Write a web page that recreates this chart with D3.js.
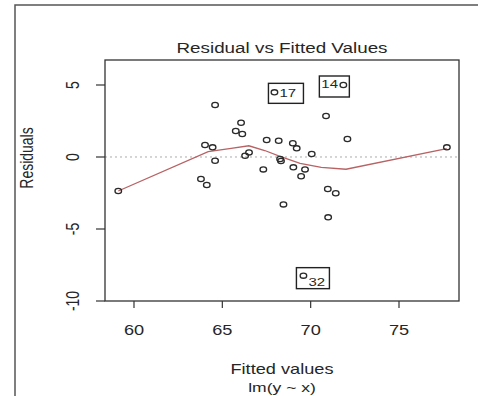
<!DOCTYPE html>
<html>
<head>
<meta charset="utf-8">
<script src="https://cdn.jsdelivr.net/npm/d3@7"></script>
<style>
  body { margin: 0; background: #fff; }
  svg text { font-family: "Liberation Sans", Arial, sans-serif; fill: #262626; }
</style>
</head>
<body>
<svg id="chart"></svg>
<script>
// fitted values and residuals
const fitted = [59.11, 64.59, 64.02, 64.45, 64.59, 63.79, 64.12, 66.06, 65.76, 66.13,
  66.51, 66.29, 67.32, 67.51, 68.19, 68.27, 68.32, 68.46, 68.99, 69.21,
  69.02, 69.68, 69.46, 70.06, 70.87, 72.08, 70.97, 71.42, 70.99, 77.71];
const resid = [-2.36, 3.61, 0.83, 0.67, -0.26, -1.53, -1.94, 2.38, 1.81, 1.60,
  0.32, 0.09, -0.86, 1.18, 1.13, -0.14, -0.28, -3.29, 0.95, 0.60,
  -0.72, -0.86, -1.34, 0.21, 2.85, 1.25, -2.22, -2.52, -4.19, 0.67];

// labelled outliers
const outlierNames = ['17', '14', '32'];
const outlierFitted = [67.95, 71.85, 69.59];
const outlierResid = [4.49, 5.0, -8.24];

// smoother line
const smoothX = [59.11, 64.2, 65.5, 66.5, 67.4, 68.3, 69.4, 70.6, 72.0, 77.7];
const smoothY = [-2.36, 0.37, 0.6, 0.78, 0.45, 0.02, -0.44, -0.72, -0.85, 0.58];

const xTicks = [60, 65, 70, 75];
const yTicks = [-10, -5, 0, 5];

const width = 478;
const height = 396;
const sx = 1.3; // horizontal stretch of the original picture

const mLeft = 105, mRight = 459, mTop = 60, mBottom = 301;

const svg = d3.select('#chart')
  .attr('width', width)
  .attr('height', height);

const x = d3.scaleLinear().domain([58.359, 78.396]).range([mLeft, mRight]);
const y = d3.scaleLinear().domain([-10, 6.736]).range([mBottom, mTop]);

// outer frame (only top and left show)
svg.append('path')
  .attr('d', `M15,${height} L15,5 L${width},5`)
  .attr('fill', 'none')
  .attr('stroke', '#555')
  .attr('stroke-width', 1.5);

// zero line
svg.append('line')
  .attr('x1', mLeft).attr('x2', mRight)
  .attr('y1', y(0)).attr('y2', y(0))
  .attr('stroke', '#aaa')
  .attr('stroke-width', 1)
  .attr('stroke-dasharray', '2,3');

// smoother
svg.append('path')
  .datum(smoothX.map((v, i) => [v, smoothY[i]]))
  .attr('d', d3.line().x(d => x(d[0])).y(d => y(d[1])))
  .attr('fill', 'none')
  .attr('stroke', '#b86264')
  .attr('stroke-width', 1.3);

// points
const allX = fitted.concat(outlierFitted);
const allY = resid.concat(outlierResid);
svg.selectAll('ellipse.pt')
  .data(allX.map((v, i) => [v, allY[i]]))
  .enter()
  .append('ellipse')
  .attr('class', 'pt')
  .attr('cx', d => x(d[0]))
  .attr('cy', d => y(d[1]))
  .attr('rx', 3.3)
  .attr('ry', 2.6)
  .attr('fill', 'none')
  .attr('stroke', '#2a2a2a')
  .attr('stroke-width', 1.3);

// outlier boxes and labels
const boxOff = {
  '17': { x0: -6, x1: 29, y0: -9, y1: 11, tx: 5, ty: 5 },
  '14': { x0: -24, x1: 6, y0: -9, y1: 12, tx: -22, ty: 3 },
  '32': { x0: -7, x1: 26, y0: -8, y1: 13, tx: 5, ty: 10 }
};
outlierNames.forEach((name, i) => {
  const px = x(outlierFitted[i]);
  const py = y(outlierResid[i]);
  const o = boxOff[name];
  svg.append('rect')
    .attr('x', px + o.x0).attr('y', py + o.y0)
    .attr('width', o.x1 - o.x0).attr('height', o.y1 - o.y0)
    .attr('fill', 'none')
    .attr('stroke', '#222')
    .attr('stroke-width', 1.4);
  svg.append('text')
    .attr('transform', `translate(${px + o.tx},${py + o.ty}) scale(${sx},1)`)
    .style('font-size', '11.5px')
    .text(name);
});

// plot box
svg.append('rect')
  .attr('x', mLeft).attr('y', mTop)
  .attr('width', mRight - mLeft).attr('height', mBottom - mTop)
  .attr('fill', 'none')
  .attr('stroke', '#333')
  .attr('stroke-width', 1.3);

// ticks
svg.selectAll('line.xt')
  .data(xTicks)
  .enter()
  .append('line')
  .attr('x1', d => x(d)).attr('x2', d => x(d))
  .attr('y1', mBottom).attr('y2', mBottom + 7)
  .attr('stroke', '#333')
  .attr('stroke-width', 1.2);

svg.selectAll('text.xt')
  .data(xTicks)
  .enter()
  .append('text')
  .attr('text-anchor', 'middle')
  .attr('transform', d => `translate(${x(d)},335) scale(${sx},1)`)
  .style('font-size', '14px')
  .text(d => d);

svg.selectAll('line.yt')
  .data(yTicks)
  .enter()
  .append('line')
  .attr('x1', mLeft - 9).attr('x2', mLeft)
  .attr('y1', d => y(d)).attr('y2', d => y(d))
  .attr('stroke', '#333')
  .attr('stroke-width', 1.2);

svg.selectAll('text.yt')
  .data(yTicks)
  .enter()
  .append('text')
  .attr('text-anchor', 'middle')
  .attr('transform', d => `translate(79,${y(d)}) scale(${sx},1) rotate(-90)`)
  .style('font-size', '14px')
  .text(d => d);

// titles
svg.append('text')
  .attr('text-anchor', 'middle')
  .attr('transform', `translate(${(mLeft + mRight) / 2},53) scale(${sx},1)`)
  .style('font-size', '14.5px')
  .text('Residual vs Fitted Values');

svg.append('text')
  .attr('text-anchor', 'middle')
  .attr('transform', `translate(${(mLeft + mRight) / 2},374) scale(${sx},1)`)
  .style('font-size', '14px')
  .text('Fitted values');

svg.append('text')
  .attr('text-anchor', 'middle')
  .attr('transform', `translate(${(mLeft + mRight) / 2},392) scale(${sx},1)`)
  .style('font-size', '13.5px')
  .text('lm(y ~ x)');

svg.append('text')
  .attr('text-anchor', 'middle')
  .attr('transform', `translate(33,158) scale(${sx},1) rotate(-90)`)
  .style('font-size', '14px')
  .text('Residuals');
</script>
</body>
</html>
